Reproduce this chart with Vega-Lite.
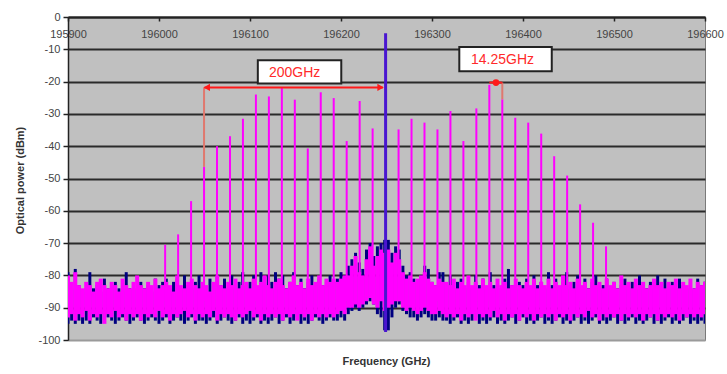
{
"$schema": "https://vega.github.io/schema/vega-lite/v6.json",
"width": 637, "height": 323,
"autosize": "none",
"padding": {"left": 68, "top": 17, "right": 22, "bottom": 34},
"background": "white",
"config": {"view": {"fill": "#c0c0c0", "stroke": "#7a7a7a", "strokeWidth": 1}, "font": "Liberation Sans", "axisY": {"tickCount": 11, "labelOverlap": false}},
"datasets": {
"noise": [
{"f":195900,"mh":-80,"ml":-93,"bh":-79,"bl":-95},{"f":195904,"mh":-82,"ml":-92,"bh":-84,"bl":-94},{"f":195908,"mh":-79,"ml":-94,"bh":-78,"bl":-95},{"f":195912,"mh":-83,"ml":-92,"bh":-83,"bl":-94},{"f":195916,"mh":-84,"ml":-93,"bh":-85,"bl":-95},{"f":195920,"mh":-82,"ml":-91,"bh":-84,"bl":-94},{"f":195924,"mh":-83,"ml":-94,"bh":-79,"bl":-95},{"f":195928,"mh":-85,"ml":-92,"bh":-84,"bl":-93},{"f":195932,"mh":-82,"ml":-93,"bh":-83,"bl":-94},{"f":195936,"mh":-81,"ml":-92,"bh":-85,"bl":-95},
{"f":195940,"mh":-83,"ml":-95,"bh":-81,"bl":-94},{"f":195944,"mh":-84,"ml":-92,"bh":-84,"bl":-93},{"f":195948,"mh":-82,"ml":-93,"bh":-83,"bl":-94},{"f":195952,"mh":-83,"ml":-91,"bh":-82,"bl":-95},{"f":195956,"mh":-85,"ml":-93,"bh":-84,"bl":-94},{"f":195960,"mh":-81,"ml":-92,"bh":-85,"bl":-93},{"f":195964,"mh":-83,"ml":-94,"bh":-79,"bl":-94},{"f":195968,"mh":-84,"ml":-92,"bh":-84,"bl":-95},{"f":195972,"mh":-82,"ml":-93,"bh":-83,"bl":-94},{"f":195976,"mh":-80,"ml":-92,"bh":-84,"bl":-93},
{"f":195980,"mh":-83,"ml":-94,"bh":-82,"bl":-94},{"f":195984,"mh":-84,"ml":-92,"bh":-84,"bl":-95},{"f":195988,"mh":-82,"ml":-93,"bh":-83,"bl":-94},{"f":195992,"mh":-83,"ml":-92,"bh":-85,"bl":-93},{"f":195996,"mh":-81,"ml":-93,"bh":-81,"bl":-94},{"f":196000,"mh":-84,"ml":-91,"bh":-83,"bl":-95},{"f":196004,"mh":-83,"ml":-93,"bh":-82,"bl":-94},{"f":196008,"mh":-82,"ml":-92,"bh":-81,"bl":-93},{"f":196012,"mh":-83,"ml":-94,"bh":-84,"bl":-95},{"f":196016,"mh":-85,"ml":-92,"bh":-82,"bl":-94},
{"f":196020,"mh":-80,"ml":-93,"bh":-81,"bl":-93},{"f":196024,"mh":-83,"ml":-92,"bh":-84,"bl":-94},{"f":196028,"mh":-84,"ml":-91,"bh":-80,"bl":-95},{"f":196032,"mh":-82,"ml":-93,"bh":-83,"bl":-94},{"f":196036,"mh":-81,"ml":-92,"bh":-84,"bl":-93},{"f":196040,"mh":-83,"ml":-94,"bh":-82,"bl":-95},{"f":196044,"mh":-84,"ml":-92,"bh":-80,"bl":-94},{"f":196048,"mh":-82,"ml":-93,"bh":-83,"bl":-94},{"f":196052,"mh":-83,"ml":-92,"bh":-84,"bl":-95},{"f":196056,"mh":-85,"ml":-93,"bh":-81,"bl":-94},
{"f":196060,"mh":-82,"ml":-91,"bh":-84,"bl":-93},{"f":196064,"mh":-80,"ml":-94,"bh":-80,"bl":-95},{"f":196068,"mh":-83,"ml":-92,"bh":-83,"bl":-94},{"f":196072,"mh":-84,"ml":-93,"bh":-81,"bl":-93},{"f":196076,"mh":-82,"ml":-92,"bh":-84,"bl":-94},{"f":196080,"mh":-83,"ml":-93,"bh":-80,"bl":-95},{"f":196084,"mh":-81,"ml":-94,"bh":-84,"bl":-94},{"f":196088,"mh":-84,"ml":-92,"bh":-82,"bl":-93},{"f":196092,"mh":-83,"ml":-93,"bh":-79,"bl":-95},{"f":196096,"mh":-82,"ml":-92,"bh":-83,"bl":-94},
{"f":196100,"mh":-84,"ml":-91,"bh":-82,"bl":-95},{"f":196104,"mh":-81,"ml":-93,"bh":-80,"bl":-94},{"f":196108,"mh":-83,"ml":-92,"bh":-84,"bl":-93},{"f":196112,"mh":-82,"ml":-94,"bh":-79,"bl":-95},{"f":196116,"mh":-80,"ml":-92,"bh":-83,"bl":-94},{"f":196120,"mh":-83,"ml":-93,"bh":-80,"bl":-95},{"f":196124,"mh":-84,"ml":-92,"bh":-82,"bl":-94},{"f":196128,"mh":-82,"ml":-93,"bh":-79,"bl":-93},{"f":196132,"mh":-81,"ml":-92,"bh":-81,"bl":-95},{"f":196136,"mh":-83,"ml":-94,"bh":-80,"bl":-94},
{"f":196140,"mh":-84,"ml":-92,"bh":-84,"bl":-93},{"f":196144,"mh":-82,"ml":-93,"bh":-82,"bl":-95},{"f":196148,"mh":-80,"ml":-92,"bh":-79,"bl":-94},{"f":196152,"mh":-83,"ml":-94,"bh":-83,"bl":-93},{"f":196156,"mh":-82,"ml":-92,"bh":-81,"bl":-95},{"f":196160,"mh":-84,"ml":-93,"bh":-84,"bl":-94},{"f":196164,"mh":-81,"ml":-92,"bh":-82,"bl":-95},{"f":196168,"mh":-83,"ml":-94,"bh":-80,"bl":-94},{"f":196172,"mh":-82,"ml":-92,"bh":-84,"bl":-93},{"f":196176,"mh":-80,"ml":-93,"bh":-81,"bl":-94},
{"f":196180,"mh":-83,"ml":-92,"bh":-83,"bl":-95},{"f":196184,"mh":-81,"ml":-93,"bh":-82,"bl":-94},{"f":196188,"mh":-82,"ml":-92,"bh":-80,"bl":-93},{"f":196192,"mh":-81,"ml":-93,"bh":-82,"bl":-94},
{"f":196196,"mh":-82,"ml":-92,"bh":-81,"bl":-94},{"f":196200,"mh":-81,"ml":-91,"bh":-79,"bl":-93},{"f":196204,"mh":-80,"ml":-92,"bh":-80,"bl":-94},{"f":196208,"mh":-80,"ml":-90,"bh":-77,"bl":-92},{"f":196212,"mh":-77,"ml":-90,"bh":-75,"bl":-91},{"f":196216,"mh":-74,"ml":-89,"bh":-73,"bl":-90},{"f":196220,"mh":-79,"ml":-90,"bh":-76,"bl":-91},{"f":196224,"mh":-80,"ml":-89,"bh":-78,"bl":-90},{"f":196228,"mh":-75,"ml":-88,"bh":-72,"bl":-89},{"f":196232,"mh":-71,"ml":-87,"bh":-70,"bl":-88},
{"f":196236,"mh":-77,"ml":-89,"bh":-74,"bl":-89},{"f":196240,"mh":-74,"ml":-90,"bh":-71,"bl":-92},{"f":196244,"mh":-72,"ml":-88,"bh":-70,"bl":-93},{"f":196248,"mh":-73,"ml":-91,"bh":-69,"bl":-97},{"f":196252,"mh":-72,"ml":-90,"bh":-69,"bl":-97},{"f":196256,"mh":-76,"ml":-89,"bh":-73,"bl":-93},{"f":196260,"mh":-73,"ml":-88,"bh":-71,"bl":-90},{"f":196264,"mh":-75,"ml":-88,"bh":-72,"bl":-89},{"f":196268,"mh":-79,"ml":-90,"bh":-77,"bl":-91},{"f":196272,"mh":-81,"ml":-91,"bh":-80,"bl":-92},
{"f":196276,"mh":-80,"ml":-90,"bh":-79,"bl":-93},{"f":196280,"mh":-82,"ml":-91,"bh":-81,"bl":-93},{"f":196284,"mh":-81,"ml":-92,"bh":-82,"bl":-94},{"f":196288,"mh":-80,"ml":-91,"bh":-80,"bl":-93},{"f":196292,"mh":-79,"ml":-90,"bh":-77,"bl":-92},{"f":196296,"mh":-81,"ml":-91,"bh":-78,"bl":-93},{"f":196300,"mh":-82,"ml":-92,"bh":-82,"bl":-94},{"f":196304,"mh":-83,"ml":-92,"bh":-83,"bl":-94},{"f":196308,"mh":-81,"ml":-91,"bh":-79,"bl":-93},{"f":196312,"mh":-82,"ml":-92,"bh":-79,"bl":-94},
{"f":196316,"mh":-82,"ml":-93,"bh":-83,"bl":-94},{"f":196320,"mh":-83,"ml":-92,"bh":-80,"bl":-95},{"f":196324,"mh":-81,"ml":-93,"bh":-84,"bl":-94},{"f":196328,"mh":-84,"ml":-92,"bh":-82,"bl":-93},{"f":196332,"mh":-82,"ml":-94,"bh":-81,"bl":-95},{"f":196336,"mh":-83,"ml":-92,"bh":-84,"bl":-94},{"f":196340,"mh":-80,"ml":-93,"bh":-82,"bl":-95},{"f":196344,"mh":-83,"ml":-92,"bh":-84,"bl":-94},{"f":196348,"mh":-82,"ml":-94,"bh":-80,"bl":-93},{"f":196352,"mh":-84,"ml":-92,"bh":-83,"bl":-95},
{"f":196356,"mh":-81,"ml":-93,"bh":-81,"bl":-94},{"f":196360,"mh":-83,"ml":-92,"bh":-84,"bl":-95},{"f":196364,"mh":-82,"ml":-93,"bh":-79,"bl":-94},{"f":196368,"mh":-84,"ml":-91,"bh":-83,"bl":-93},{"f":196372,"mh":-81,"ml":-93,"bh":-82,"bl":-95},{"f":196376,"mh":-83,"ml":-92,"bh":-84,"bl":-94},{"f":196380,"mh":-82,"ml":-94,"bh":-81,"bl":-95},{"f":196384,"mh":-84,"ml":-92,"bh":-78,"bl":-94},{"f":196388,"mh":-83,"ml":-93,"bh":-83,"bl":-93},{"f":196392,"mh":-81,"ml":-92,"bh":-84,"bl":-95},
{"f":196396,"mh":-83,"ml":-94,"bh":-82,"bl":-94},{"f":196400,"mh":-84,"ml":-92,"bh":-83,"bl":-93},{"f":196404,"mh":-82,"ml":-93,"bh":-81,"bl":-95},{"f":196408,"mh":-83,"ml":-92,"bh":-84,"bl":-94},{"f":196412,"mh":-81,"ml":-94,"bh":-80,"bl":-95},{"f":196416,"mh":-84,"ml":-92,"bh":-83,"bl":-94},{"f":196420,"mh":-82,"ml":-93,"bh":-82,"bl":-93},{"f":196424,"mh":-83,"ml":-92,"bh":-84,"bl":-95},{"f":196428,"mh":-81,"ml":-93,"bh":-79,"bl":-94},{"f":196432,"mh":-84,"ml":-92,"bh":-83,"bl":-95},
{"f":196436,"mh":-82,"ml":-94,"bh":-81,"bl":-94},{"f":196440,"mh":-83,"ml":-92,"bh":-84,"bl":-93},{"f":196444,"mh":-80,"ml":-93,"bh":-82,"bl":-95},{"f":196448,"mh":-83,"ml":-92,"bh":-79,"bl":-94},{"f":196452,"mh":-82,"ml":-94,"bh":-84,"bl":-95},{"f":196456,"mh":-84,"ml":-92,"bh":-82,"bl":-94},{"f":196460,"mh":-81,"ml":-93,"bh":-80,"bl":-93},{"f":196464,"mh":-83,"ml":-92,"bh":-84,"bl":-95},{"f":196468,"mh":-82,"ml":-93,"bh":-81,"bl":-94},{"f":196472,"mh":-84,"ml":-91,"bh":-84,"bl":-95},
{"f":196476,"mh":-81,"ml":-93,"bh":-82,"bl":-94},{"f":196480,"mh":-83,"ml":-92,"bh":-80,"bl":-93},{"f":196484,"mh":-82,"ml":-94,"bh":-84,"bl":-95},{"f":196488,"mh":-84,"ml":-92,"bh":-83,"bl":-94},{"f":196492,"mh":-81,"ml":-93,"bh":-81,"bl":-95},{"f":196496,"mh":-83,"ml":-92,"bh":-84,"bl":-94},{"f":196500,"mh":-82,"ml":-93,"bh":-82,"bl":-93},{"f":196504,"mh":-84,"ml":-92,"bh":-84,"bl":-95},{"f":196508,"mh":-80,"ml":-94,"bh":-83,"bl":-94},{"f":196512,"mh":-83,"ml":-92,"bh":-81,"bl":-95},
{"f":196516,"mh":-82,"ml":-93,"bh":-84,"bl":-94},{"f":196520,"mh":-84,"ml":-92,"bh":-82,"bl":-93},{"f":196524,"mh":-81,"ml":-93,"bh":-84,"bl":-95},{"f":196528,"mh":-83,"ml":-92,"bh":-80,"bl":-94},{"f":196532,"mh":-82,"ml":-94,"bh":-83,"bl":-95},{"f":196536,"mh":-84,"ml":-92,"bh":-84,"bl":-94},{"f":196540,"mh":-83,"ml":-93,"bh":-82,"bl":-93},{"f":196544,"mh":-81,"ml":-92,"bh":-84,"bl":-95},{"f":196548,"mh":-83,"ml":-94,"bh":-80,"bl":-94},{"f":196552,"mh":-82,"ml":-92,"bh":-83,"bl":-95},
{"f":196556,"mh":-84,"ml":-93,"bh":-81,"bl":-94},{"f":196560,"mh":-82,"ml":-92,"bh":-84,"bl":-93},{"f":196564,"mh":-83,"ml":-93,"bh":-82,"bl":-95},{"f":196568,"mh":-81,"ml":-92,"bh":-84,"bl":-94},{"f":196572,"mh":-84,"ml":-94,"bh":-81,"bl":-95},{"f":196576,"mh":-82,"ml":-92,"bh":-83,"bl":-94},{"f":196580,"mh":-83,"ml":-93,"bh":-84,"bl":-93},{"f":196584,"mh":-81,"ml":-92,"bh":-82,"bl":-95},{"f":196588,"mh":-84,"ml":-93,"bh":-84,"bl":-94},{"f":196592,"mh":-82,"ml":-92,"bh":-81,"bl":-95},
{"f":196596,"mh":-83,"ml":-93,"bh":-83,"bl":-94},{"f":196600,"mh":-82,"ml":-92,"bh":-82,"bl":-95}
],
"comb": [
{"f":196006.75,"p":-70.5},{"f":196021,"p":-67.3},{"f":196035.25,"p":-57},{"f":196049.5,"p":-46.4},{"f":196063.75,"p":-40},{"f":196078,"p":-36.9},{"f":196092.25,"p":-31.5},{"f":196106.5,"p":-24},{"f":196120.75,"p":-24.6},{"f":196135,"p":-22},{"f":196149.25,"p":-25.6},{"f":196163.5,"p":-40.7},{"f":196177.75,"p":-23.3},{"f":196192,"p":-25.1},{"f":196206.25,"p":-38.4},{"f":196220.5,"p":-26},{"f":196234.75,"p":-34.5},
{"f":196263.25,"p":-34.8},{"f":196277.5,"p":-31.5},{"f":196291.75,"p":-32.7},{"f":196306,"p":-34.8},{"f":196320.25,"p":-29.1},{"f":196334.5,"p":-38.4},{"f":196348.75,"p":-28.3},{"f":196363,"p":-21},{"f":196377.25,"p":-25.5},{"f":196391.5,"p":-31.2},{"f":196405.75,"p":-32.7},{"f":196420,"p":-36.1},{"f":196434.25,"p":-43.1},{"f":196448.5,"p":-49.1},{"f":196462.75,"p":-58},{"f":196477,"p":-63.7},{"f":196491.25,"p":-71}
],
"center": [{"f":196249,"top":-5,"bot":-97.5}],
"vsegs": [{"f":196049.5,"y1":-21.8,"y2":-46.4},{"f":196377.25,"y1":-20.3,"y2":-25.5}],
"hsegs": [{"x1":196050,"x2":196246,"y":-21.8},{"x1":196363,"x2":196377.25,"y":-20.3}],
"heads": [{"f":196052.5,"y":-21.8,"dir":"left"},{"f":196243.5,"y":-21.8,"dir":"right"}],
"dots": [{"f":196370.3,"y":-20.3}],
"boxes": [
{"x1":196108.6,"x2":196200.3,"y1":-13.4,"y2":-20.6,"tx":196149,"ty":-17.3,"t":"200GHz"},
{"x1":196330,"x2":196431.6,"y1":-9.3,"y2":-16.8,"tx":196377.5,"ty":-13.4,"t":"14.25GHz"}
]
},
"layer": [
{
"data": {"name": "noise"},
"mark": {"type": "rule", "color": "#000080", "strokeWidth": 3, "clip": true},
"encoding": {
"x": {"field": "f", "type": "quantitative",
"scale": {"domain": [195900, 196600], "nice": false, "zero": false},
"axis": {"orient": "bottom", "offset": -323, "values": [195900,196000,196100,196200,196300,196400,196500,196600], "format": "d",
"tickSize": 4, "tickColor": "#222", "tickWidth": 1.5, "domainColor": "#222", "domainWidth": 2,
"labelPadding": 7, "labelFont": "Liberation Sans", "labelFontSize": 11, "labelColor": "#444",
"labelOverlap": false, "labelBound": false, "labelFlush": false, "grid": false,
"title": "Frequency (GHz)", "titleFont": "Liberation Sans", "titleFontSize": 11, "titleFontWeight": "bold", "titleColor": "#333",
"titleX": 318, "titleY": 344, "titleBaseline": "middle", "titleAlign": "center"}},
"y": {"field": "bh", "type": "quantitative",
"scale": {"domain": [-100, 0], "nice": false, "zero": false},
"axis": {"values": [0,-10,-20,-30,-40,-50,-60,-70,-80,-90,-100], "tickCount": 11, "labelExpr": "'' + datum.value", "labelOverlap": false,
"tickSize": 5, "tickColor": "#222", "tickWidth": 1.5, "domainColor": "#222", "domainWidth": 1.5,
"labelPadding": 3, "labelFont": "Liberation Sans", "labelFontSize": 11, "labelColor": "#444",
"grid": true, "gridColor": {"condition": {"test": "datum.value === -100", "value": "#9a9a9a"}, "value": "#2a2a2a"}, "gridWidth": 2,
"title": "Optical power (dBm)", "titleFont": "Liberation Sans", "titleFontSize": 11, "titleFontWeight": "bold", "titleColor": "#333",
"titleX": -48, "titleY": 163, "titleAngle": 270, "titleBaseline": "middle", "titleAlign": "center"}},
"y2": {"field": "bl"}
}
},
{
"data": {"name": "noise"},
"mark": {"type": "rule", "color": "#ff00ff", "strokeWidth": 4, "clip": true},
"encoding": {
"x": {"field": "f", "type": "quantitative"},
"y": {"field": "mh", "type": "quantitative"},
"y2": {"field": "ml"}
}
},
{
"data": {"name": "comb"},
"mark": {"type": "rule", "color": "#ff00ff", "strokeWidth": 2},
"encoding": {
"x": {"field": "f", "type": "quantitative"},
"y": {"field": "p", "type": "quantitative"},
"y2": {"datum": -88}
}
},
{
"data": {"name": "center"},
"mark": {"type": "rule", "color": "#4a16d0", "strokeWidth": 3},
"encoding": {
"x": {"field": "f", "type": "quantitative"},
"y": {"field": "top", "type": "quantitative"},
"y2": {"field": "bot"}
}
},
{
"data": {"name": "vsegs"},
"mark": {"type": "rule", "color": "#e0786e", "strokeWidth": 2},
"encoding": {
"x": {"field": "f", "type": "quantitative"},
"y": {"field": "y1", "type": "quantitative"},
"y2": {"field": "y2"}
}
},
{
"data": {"name": "hsegs"},
"mark": {"type": "rule", "color": "#ff1a1a", "strokeWidth": 2},
"encoding": {
"x": {"field": "x1", "type": "quantitative"},
"x2": {"field": "x2"},
"y": {"field": "y", "type": "quantitative"}
}
},
{
"data": {"name": "heads"},
"mark": {"type": "point", "filled": true, "color": "#ff1a1a", "size": 55, "opacity": 1},
"encoding": {
"x": {"field": "f", "type": "quantitative"},
"y": {"field": "y", "type": "quantitative"},
"shape": {"field": "dir", "type": "nominal", "scale": {"domain": ["left", "right"], "range": ["triangle-left", "triangle-right"]}, "legend": null}
}
},
{
"data": {"name": "dots"},
"mark": {"type": "point", "filled": true, "shape": "circle", "color": "#ff1a1a", "size": 45, "opacity": 1},
"encoding": {
"x": {"field": "f", "type": "quantitative"},
"y": {"field": "y", "type": "quantitative"}
}
},
{
"data": {"name": "boxes"},
"mark": {"type": "rect", "fill": "white", "stroke": "#222", "strokeWidth": 2},
"encoding": {
"x": {"field": "x1", "type": "quantitative"},
"x2": {"field": "x2"},
"y": {"field": "y1", "type": "quantitative"},
"y2": {"field": "y2"}
}
},
{
"data": {"name": "boxes"},
"mark": {"type": "text", "color": "#ff2a2a", "fontSize": 14, "font": "Liberation Sans", "align": "center", "baseline": "middle"},
"encoding": {
"x": {"field": "tx", "type": "quantitative"},
"y": {"field": "ty", "type": "quantitative"},
"text": {"field": "t"}
}
}
]
}
